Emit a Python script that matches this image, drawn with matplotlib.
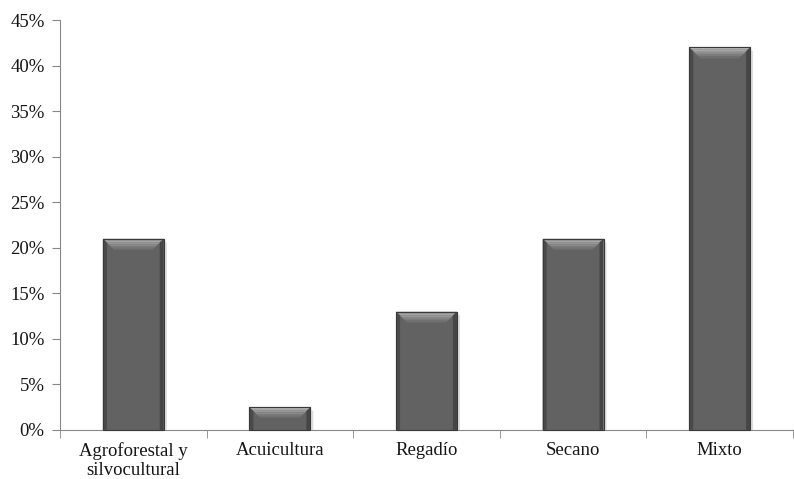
import numpy as np
import matplotlib.pyplot as plt
from matplotlib.patches import Polygon
from matplotlib.transforms import IdentityTransform
from matplotlib.ticker import PercentFormatter

categories = ["Agroforestal y\nsilvocultural", "Acuicultura", "Regadío", "Secano", "Mixto"]
values = [21, 2.5, 13, 21, 42]
yticks = list(range(0, 50, 5))

plt.rcParams['font.family'] = ['Liberation Serif', 'DejaVu Serif']

fig = plt.figure(figsize=(7.94, 4.79), dpi=100)
ax = fig.add_axes([0.0756, 0.1023, 0.9231, 0.8559])

x = np.arange(len(categories))
bars = ax.bar(x, values, width=0.415, color="#626262", edgecolor="#3c3c3c", linewidth=0.8, zorder=2)

ax.set_xlim(-0.5, len(categories) - 0.5)
ax.set_ylim(0, 45)
ax.set_yticks(yticks)
ax.yaxis.set_major_formatter(PercentFormatter(decimals=0))
ax.set_xticks(x)
ax.set_xticklabels(categories, linespacing=1.12)
ax.set_xticks(np.arange(len(categories) + 1) - 0.5, minor=True)
ax.tick_params(axis='x', which='major', length=0, pad=9)
ax.tick_params(axis='x', which='minor', length=6, color="#888888")
ax.tick_params(axis='y', length=6, color="#888888", pad=5)
ax.tick_params(labelsize=13.5, labelcolor="#151515")

for s in ("top", "right"):
    ax.spines[s].set_visible(False)
for s in ("left", "bottom"):
    ax.spines[s].set_color("#888888")

# bevel highlights drawn in pixel space from each bar's extents
fig.canvas.draw()
for b in bars:
    (x0, y0), (x1, y1) = ax.transData.transform([(b.get_x(), 0), (b.get_x() + b.get_width(), b.get_height())])
    d = min(11, (y1 - y0) / 2.2)
    ident = IdentityTransform()
    # top bevel as bands, light at top fading into the face
    shades = ["#b4b4b4", "#a6a6a6", "#989898", "#8a8a8a", "#7c7c7c", "#707070"]
    n = len(shades)
    for i, c in enumerate(shades):
        a = d * i / n
        bb = d * (i + 1) / n
        fig.add_artist(Polygon([(x0 + a, y1 - a), (x1 - a, y1 - a), (x1 - bb, y1 - bb), (x0 + bb, y1 - bb)],
                               closed=True, facecolor=c, edgecolor="none", transform=ident, zorder=3))
    fig.add_artist(Polygon([(x0, y1), (x0 + 4, y1 - 4), (x0 + 4, y0), (x0, y0)],
                           closed=True, facecolor="#4a4a4a", edgecolor="none", transform=ident, zorder=3))
    fig.add_artist(Polygon([(x1, y1), (x1 - 4, y1 - 4), (x1 - 4, y0), (x1, y0)],
                           closed=True, facecolor="#464646", edgecolor="none", transform=ident, zorder=3))
    fig.add_artist(Polygon([(x1, y1 - 2), (x1 + 3, y1 - 4), (x1 + 3, y0), (x1, y0)],
                           closed=True, facecolor="#dcdcdc", edgecolor="none", transform=ident, zorder=1))
    fig.add_artist(Polygon([(x0, y1), (x1, y1), (x1, y0), (x0, y0)], closed=True, fill=False,
                           edgecolor="#3a3a3a", linewidth=0.8, transform=ident, zorder=4))

fig.savefig("out.png", dpi=100)
